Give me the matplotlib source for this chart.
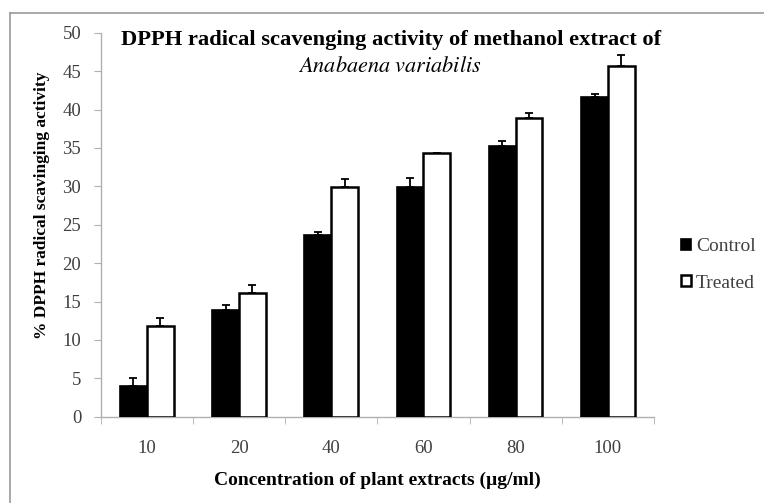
import matplotlib
matplotlib.use("Agg")
import matplotlib.pyplot as plt
from matplotlib.patches import Patch
from matplotlib.lines import Line2D
import numpy as np

categories = ["10", "20", "40", "60", "80", "100"]
control = [4.0, 13.9, 23.6, 29.9, 35.2, 41.6]
control_err = [1.0, 0.6, 0.5, 1.2, 0.7, 0.4]
treated = [11.8, 16.1, 29.9, 34.4, 38.9, 45.7]
treated_err = [1.1, 1.0, 1.0, 0.0, 0.7, 1.4]
series_names = ["Control", "Treated"]
y_ticks = [0, 5, 10, 15, 20, 25, 30, 35, 40, 45, 50]

plt.rcParams['font.family'] = ['Liberation Serif', 'DejaVu Serif']
plt.rcParams['mathtext.fontset'] = 'stix'

W, H = 764, 503
fig = plt.figure(figsize=(W / 100, H / 100), dpi=100)
ax = fig.add_axes([100.7 / W, 1 - 416.7 / H, (654 - 100.7) / W, (416.7 - 32.7) / H])

x = np.arange(len(categories))
w = 0.29
axis_gray = '#b0b0b0'
tick_col = '#404040'

ax.bar(x - w / 2, control, w, color='black', edgecolor='black', linewidth=1.2,
       yerr=[np.zeros(len(control)), control_err], capsize=3,
       error_kw=dict(ecolor='black', elinewidth=1.3, capthick=1.3), zorder=3)
ax.bar(x + w / 2, treated, w, color='white', edgecolor='black', linewidth=1.8,
       yerr=[np.zeros(len(treated)), treated_err], capsize=3,
       error_kw=dict(ecolor='black', elinewidth=1.3, capthick=1.3), zorder=3)

ax.set_xlim(-0.5, len(categories) - 0.5)
ax.set_ylim(0, 50)
ax.set_yticks(y_ticks)
ax.set_xticks(x)
ax.set_xticklabels(categories)
ax.set_xticks(np.arange(len(categories) + 1) - 0.5, minor=True)

for s in ['top', 'right']:
    ax.spines[s].set_visible(False)
for s in ['left', 'bottom']:
    ax.spines[s].set_color(axis_gray)
    ax.spines[s].set_linewidth(1.0)

ax.tick_params(axis='y', direction='out', length=5, color=axis_gray, labelcolor=tick_col,
               labelsize=13.5, pad=9)
ax.tick_params(axis='x', which='major', length=0, labelcolor=tick_col, labelsize=13.5, pad=17)
ax.tick_params(axis='x', which='minor', direction='out', length=5, color=axis_gray)

fig.text(391 / W, 1 - 40 / H, "DPPH radical scavenging activity of methanol extract of",
         ha='center', va='center', fontsize=16.2, fontweight='bold')
fig.text(390 / W, 1 - 67 / H, r"$\mathit{Anabaena\ variabilis}$",
         ha='center', va='center', fontsize=16)

fig.text(377 / W, 1 - 480 / H, "Concentration of plant extracts (\u00b5g/ml)",
         ha='center', va='center', fontsize=14, fontweight='bold')
fig.text(42 / W, 1 - 205 / H, "% DPPH radical scavinging activity",
         ha='center', va='center', fontsize=12.5, fontweight='bold', rotation=90)

handles = [Patch(facecolor='black', edgecolor='black', linewidth=1.2),
           Patch(facecolor='white', edgecolor='black', linewidth=1.8)]
leg = fig.legend(handles, series_names, loc='center left',
                 bbox_to_anchor=(681 / W, 1 - 265 / H), frameon=False, borderpad=0,
                 borderaxespad=0, prop={'family': ['Liberation Serif'], 'size': 14},
                 handlelength=0.52, handleheight=0.52,
                 handletextpad=0.26, labelspacing=1.0)
for t in leg.get_texts():
    t.set_color(tick_col)
    t.set_fontfamily(['Liberation Serif'])

# outer frame (left and top edges visible)
fig.add_artist(Line2D([10 / W, 10 / W], [0, 1 - 13 / H], color='#9a9a9a', linewidth=1.2,
                      transform=fig.transFigure))
fig.add_artist(Line2D([10 / W, 1], [1 - 13 / H, 1 - 13 / H], color='#9a9a9a', linewidth=1.2,
                      transform=fig.transFigure))

fig.savefig("out.png", dpi=100)
